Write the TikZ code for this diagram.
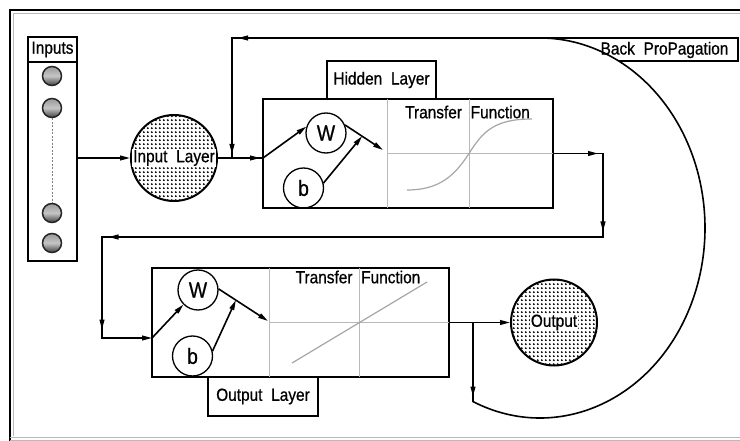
\documentclass[tikz,border=0pt]{standalone}
\usepackage{fontspec}
\setmainfont{Liberation Sans}[FakeStretch=0.88, FakeBold=0.7]
\usetikzlibrary{arrows.meta,decorations.markings,patterns.meta,intersections,calc}

% fine dot screen used inside the neuron circles
\tikzdeclarepattern{
  name=fdots,
  type=uncolored,
  bounding box={(0pt,0pt) and (4.2pt,4.2pt)},
  tile size={(4.2pt,4.2pt)},
  code={\pgfpathcircle{\pgfpoint{2.1pt}{2.1pt}}{1.2pt}\pgfusepath{fill}}
}

\newcommand\wg{\hspace{0.5em}}

\begin{document}
\begin{tikzpicture}[x=1pt, y=-1pt,
  >={Triangle[length=10pt,width=4.8pt]},
  box/.style={draw, line width=2pt, inner sep=0pt, outer sep=0pt},
  conn/.style={line width=1.6pt},
  tipat/.style={postaction={decorate, decoration={markings, mark=at position #1 with {\arrow{>}}}}},
  grid/.style={draw=gray!55, line width=0.9pt},
  lbl/.style={font=\fontsize{17.5}{20}\selectfont, inner sep=0pt},
  wb/.style={circle, draw, line width=1.3pt, minimum size=40pt, inner sep=0pt,
    font=\fontsize{22}{24}\selectfont},
  unit/.style={circle, draw=black!85, line width=1.5pt, minimum size=19pt, inner sep=0pt,
    top color=gray!80, bottom color=black!75, middle color=gray!45},
  neuron/.style={circle, draw, line width=2pt, minimum size=86pt, inner sep=0pt,
    pattern=fdots, pattern color=black},
]
\useasboundingbox (0,0) rectangle (740,441);

% window frame
\draw[line width=2.6pt] (10,441) -- (10,10) -- (740,10);
\draw[gray!55, line width=0.8pt] (13.5,436) -- (13.5,13.5) -- (740,13.5);
\draw[gray!55, line width=0.9pt] (10,437) -- (740,437);
\draw[gray!55, line width=0.9pt] (10,440.5) -- (740,440.5);

% input column
\node[box, minimum width=49pt, minimum height=224pt] (inbox) at (52.5,149) {};
\coordinate (hdr) at (52.5,62);
\draw[line width=2pt] (inbox.west |- hdr) -- (inbox.east |- hdr);
\node[lbl] (inlbl) at (52.5,49.5) {Inputs};
\node[unit] (i1) at (52,76) {};
\node[unit] (i2) at (52,108) {};
\node[unit] (i3) at (52,213) {};
\node[unit] (i4) at (52,243) {};
\draw[gray, line width=0.8pt, dash pattern=on 2pt off 1.5pt] (i2) -- (i3);

% input layer
\node[neuron] (inl) at (174,158) {};
\node[lbl, fill=white, inner sep=1pt] (inlt) at (inl) {Input\wg Layer};

% hidden layer
\node[box, minimum width=290pt, minimum height=109pt] (hid) at (408,153.5) {};
\node[box, lbl, minimum width=109pt, minimum height=38pt] (hidl) at (381.5,80) {Hidden\wg Layer};
\draw[grid] (387,99) -- (387,208);
\draw[grid] (469,99) -- (469,208);
\draw[grid] (387,153.5) -- (553,153.5);
\node[lbl] (htf) at (467.5,112) {Transfer\wg Function};
\draw[gray!70, line width=1.2pt] (407,190) .. controls (440,190) and (455,175) .. (469,153.5)
  .. controls (483,131) and (495,119) .. (532,119);
\node[wb] (hW) at (326,133) {W};
\node[wb] (hb) at (303.5,188) {b};
\coordinate (hin) at (hid.west |- inl);
\coordinate (hwo) at (383,150);
\draw[conn,->] (hin) -- (hW.162);
\draw[conn,->] (hW.23) -- (hwo);
\draw[conn,->] (hb.14) -- ($(hW.23)!0.45!(hwo)$);

% output layer
\node[box, minimum width=297pt, minimum height=109pt] (outb) at (300.5,322.5) {};
\node[box, lbl, minimum width=110pt, minimum height=39pt] (outl) at (263,396.5) {Output\wg Layer};
\draw[grid] (269,268) -- (269,377);
\draw[grid] (359,268) -- (359,377);
\draw[grid] (269,322.5) -- (449,322.5);
\node[lbl] (otf) at (358,277) {Transfer\wg Function};
\draw[gray!70, line width=1.2pt] (292,363) -- (427,282);
\node[wb] (oW) at (198,290) {W};
\node[wb] (ob) at (192.5,356) {b};
\coordinate (c4) at (102,338);
\coordinate (oin) at (outb.west |- c4);
\coordinate (owo) at (268,321);
\draw[conn,->] (oin) -- (oW.225);
\draw[conn,->] (oW.3) -- (owo);
\draw[conn,->] (ob.14) -- ($(oW.3)!0.35!(owo)$);

% output neuron
\node[neuron] (outc) at (554,322.5) {};
\node[lbl, fill=white, inner sep=1pt] (outt) at (outc) {Output};

% forward connectors
\draw[conn,->] (inbox.east |- inl) -- (inl.west);
\draw[conn, tipat=-3pt] (inl.east) -- (hin);
\coordinate (c1) at (603,153.5);
\coordinate (c2) at (603,237);
\coordinate (c3) at (102,237);
\draw[conn, ->, tipat=45pt, tipat=128pt, tipat=628pt, tipat=727pt]
  (hid.east) -- (c1) -- (c2) -- (c3) -- (c4) -- (oin);
\coordinate (jn) at (473,322.5);
\draw[conn,->] (outb.east) -- (outc.west);

% back propagation loop
\coordinate (bpc) at (232,38);
\coordinate (bpd) at (232,158);
\draw[conn, name path=bp, tipat=74pt, tipat=-4pt, tipat=-126pt]
  (jn) -- (473,401.6) arc[start angle=-113.96, end angle=90, x radius=165pt, y radius=190pt]
  -- (bpc) -- (bpd);
\path[name path=bpline] (560,61) -- (745,61);
\path[name intersections={of=bp and bpline, by=bpx}];
\draw[conn] (bpx) -- (738,61) -- (738,38) -- (540,38);
\node[lbl] (bpt) at (664.5,50) {Back\wg ProPagation};
\end{tikzpicture}
\end{document}
